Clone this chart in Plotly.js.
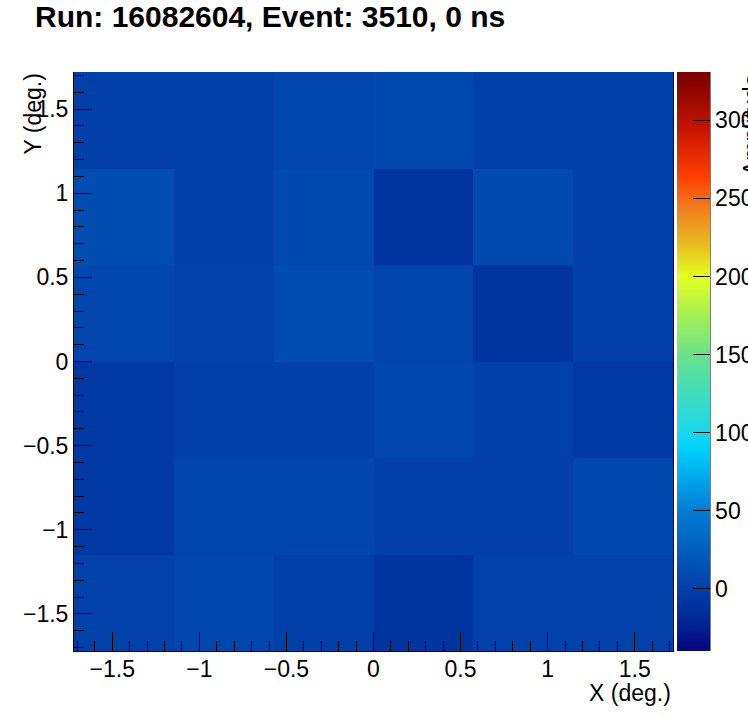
<!DOCTYPE html>
<html>
<head>
<meta charset="utf-8">
<script src="https://cdn.plot.ly/plotly-3.0.1.min.js"></script>
<style>html,body{margin:0;padding:0;background:#fff;}#chart{width:748px;height:724px;}</style>
</head>
<body>
<div id="chart"></div>
<script>
// Bin edges (deg.)
const xEdges = [-1.72, -1.147, -0.573, 0, 0.573, 1.147, 1.72];
const yEdges = [-1.72, -1.147, -0.573, 0, 0.573, 1.147, 1.72];
// Amplitude per cell, rows from bottom (y=-1.72) to top (y=1.72)
const row1 = [2, 5, -1, -10, 2, 2];
const row2 = [-6, 4, 4, 0, 0, 6];
const row3 = [-6, 0, 0, 5, 1, -6];
const row4 = [5, 2, 11, 4, -10, 0];
const row5 = [11, 0, 8, -10, 8, 0];
const row6 = [0, 0, 5, 8, -1, -1];
const zRows = [row1, row2, row3, row4, row5, row6];
const zMin = -40, zMax = 331;
const title = "Run: 16082604, Event: 3510, 0 ns";
const xTitle = "X (deg.)", yTitle = "Y (deg.)", zTitle = "Amplitude";

function f(v){ return (v - zMin) / (zMax - zMin); }
const colorscale = [
  [0, 'rgb(8,4,126)'],
  [f(-20), 'rgb(0,40,150)'],
  [f(0), 'rgb(0,64,168)'],
  [f(50), 'rgb(0,125,212)'],
  [f(90), 'rgb(0,210,255)'],
  [f(100), 'rgb(25,215,238)'],
  [f(150), 'rgb(105,226,138)'],
  [f(200), 'rgb(225,255,30)'],
  [f(220), 'rgb(230,190,30)'],
  [f(242), 'rgb(240,130,30)'],
  [f(265), 'rgb(255,60,0)'],
  [f(294), 'rgb(200,20,0)'],
  [1, 'rgb(120,0,0)']
];

const FONT = 'Liberation Sans, Arial, Helvetica, sans-serif';
const L = 74, R = 75, T = 72, B = 73;
const W = 748, H = 724;
const pw = W - L - R, ph = H - T - B;

const trace = {
  type: 'heatmap',
  x: xEdges, y: yEdges, z: zRows,
  zmin: zMin, zmax: zMax,
  colorscale: colorscale,
  hoverinfo: 'none',
  colorbar: {
    x: (677 - L) / pw, xanchor: 'left', xpad: 0,
    y: 0.5, yanchor: 'middle', ypad: 0,
    len: 1, lenmode: 'fraction',
    thickness: 33, thicknessmode: 'pixels',
    outlinewidth: 0,
    ticks: 'inside', ticklen: 17, tickcolor: 'black', tickwidth: 1,
    tick0: 0, dtick: 50,
    tickfont: {family: FONT, size: 23, color: 'black'}
  }
};

const layout = {
  width: W, height: H,
  margin: {l: L, r: R, t: T, b: B, pad: 0, autoexpand: false},
  paper_bgcolor: 'white', plot_bgcolor: 'white',
  title: {
    text: '<b>' + title + '</b>',
    xref: 'container', yref: 'container',
    x: 35 / W, xanchor: 'left',
    y: 1 - 6 / H, yanchor: 'top',
    font: {family: FONT, size: 30, color: 'black'}
  },
  xaxis: {
    range: [-1.72, 1.72], showgrid: false, zeroline: false,
    showline: true, linecolor: 'black', linewidth: 1, mirror: false,
    ticks: 'inside', ticklen: 19, tickcolor: 'black', tickwidth: 1,
    tick0: 0, dtick: 0.5, ticklabelstandoff: -3,
    minor: {ticks: 'inside', ticklen: 10, dtick: 0.1, tick0: 0, tickcolor: 'black', showgrid: false},
    tickfont: {family: FONT, size: 23, color: 'black'}
  },
  yaxis: {
    range: [-1.72, 1.72], showgrid: false, zeroline: false,
    showline: true, linecolor: 'black', linewidth: 1, mirror: true,
    ticks: 'inside', ticklen: 18, tickcolor: 'black', tickwidth: 1,
    tick0: 0, dtick: 0.5,
    minor: {ticks: 'inside', ticklen: 10, dtick: 0.1, tick0: 0, tickcolor: 'black', showgrid: false},
    tickfont: {family: FONT, size: 23, color: 'black'}
  },
  shapes: [{
    type: 'line', xref: 'paper', yref: 'paper',
    x0: (710 - L) / pw, x1: (710 - L) / pw, y0: 0, y1: 1,
    line: {color: 'black', width: 1}
  }],
  annotations: [
    {text: xTitle, xref: 'paper', yref: 'paper', x: 1, xanchor: 'right',
     y: -(693 - (T + ph)) / ph, yanchor: 'middle', showarrow: false,
     font: {family: FONT, size: 23, color: 'black'}},
    {text: yTitle, xref: 'paper', yref: 'paper', x: (32 - L) / pw, xanchor: 'center',
     y: 1, yanchor: 'top', textangle: -90, showarrow: false,
     font: {family: FONT, size: 23, color: 'black'}},
    {text: zTitle, xref: 'paper', yref: 'paper', x: (737 - L) / pw, xanchor: 'left',
     y: 1, yanchor: 'top', textangle: -90, showarrow: false,
     font: {family: FONT, size: 23, color: 'black'}}
  ]
};

Plotly.newPlot('chart', [trace], layout, {staticPlot: true, displayModeBar: false});
</script>
</body>
</html>
